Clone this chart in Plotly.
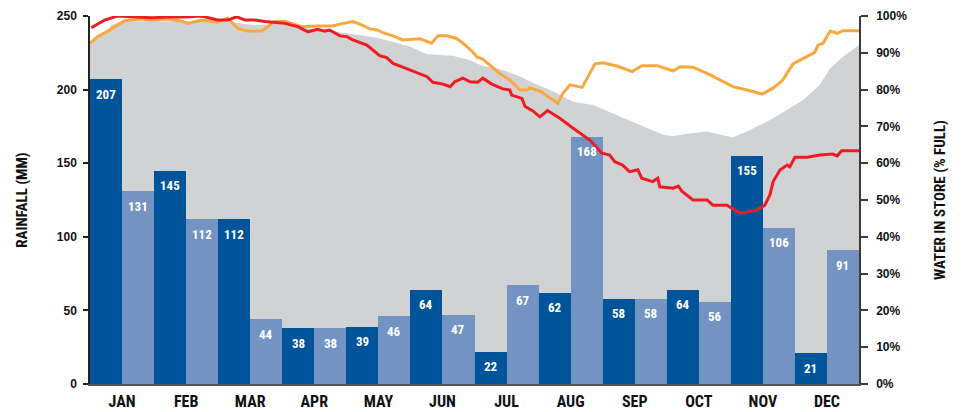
import plotly.graph_objects as go

# ---------------- data ----------------
months = ["JAN", "FEB", "MAR", "APR", "MAY", "JUN", "JUL", "AUG", "SEP", "OCT", "NOV", "DEC"]
rain_year = [207, 145, 112, 38, 39, 64, 22, 62, 58, 64, 155, 21]      # dark bars (mm)
rain_avg = [131, 112, 44, 38, 46, 47, 67, 168, 58, 56, 106, 91]       # light bars (mm)

# storage series: position in months (0 = 1 Jan, 12 = 31 Dec) and % full
red_pos = [0.02, 0.23, 0.43, 0.70, 0.96, 1.21, 1.48, 1.74, 1.99, 2.15, 2.29, 2.42, 2.57, 2.73,
           3.04, 3.24, 3.40, 3.55, 3.66, 3.74, 3.90, 4.01, 4.10, 4.32, 4.41, 4.52, 4.63, 4.73,
           4.88, 5.10, 5.26, 5.35, 5.51, 5.62, 5.69, 5.82, 5.93, 6.05, 6.13, 6.27, 6.44, 6.55,
           6.58, 6.74, 6.79, 6.91, 7.02, 7.14, 7.33, 7.54, 7.80, 7.99, 8.11, 8.19, 8.31, 8.42,
           8.55, 8.61, 8.78, 8.86, 8.89, 9.10, 9.18, 9.24, 9.41, 9.63, 9.72, 9.94, 10.14, 10.25,
           10.41, 10.53, 10.61, 10.66, 10.77, 10.88, 10.92, 11.00, 11.19, 11.39, 11.59, 11.66,
           11.73, 12.0]
red_pct = [96.8, 98.9, 100.0, 99.8, 99.5, 99.7, 99.7, 100.0, 98.9, 98.9, 99.8, 98.9, 98.9, 98.5,
           98.0, 97.1, 95.7, 96.4, 95.9, 96.2, 94.6, 94.4, 93.5, 92.1, 90.8, 89.2, 88.7, 87.1,
           86.1, 84.6, 83.5, 82.0, 81.5, 80.8, 82.1, 83.1, 82.1, 82.0, 83.1, 81.5, 80.2, 79.9,
           78.5, 77.6, 75.4, 74.2, 72.6, 74.3, 72.2, 69.5, 66.3, 62.7, 62.2, 60.4, 59.5, 57.7,
           58.2, 55.9, 55.0, 55.9, 53.6, 53.2, 53.8, 52.3, 50.0, 50.0, 48.6, 48.6, 46.4, 46.7,
           47.3, 48.6, 51.4, 55.0, 58.2, 59.5, 59.0, 61.6, 61.6, 62.2, 62.5, 62.0,
           63.4, 63.4]

orange_pos = [0.0, 0.12, 0.28, 0.43, 0.54, 0.81, 0.96, 1.21, 1.43, 1.53, 1.74, 1.99, 2.15, 2.30,
              2.46, 2.68, 2.88, 3.04, 3.30, 3.55, 3.79, 3.90, 4.10, 4.21, 4.37, 4.48, 4.57, 4.73,
              4.88, 5.15, 5.33, 5.43, 5.57, 5.72, 5.82, 5.97, 6.04, 6.13, 6.24, 6.39, 6.55, 6.71,
              6.82, 6.86, 7.02, 7.18, 7.30, 7.38, 7.49, 7.68, 7.77, 7.88, 8.00, 8.22, 8.46, 8.61,
              8.85, 9.10, 9.21, 9.41, 9.68, 9.88, 10.03, 10.30, 10.49, 10.66, 10.74, 10.81, 10.97,
              11.19, 11.31, 11.36, 11.44, 11.55, 11.66, 11.75, 12.0]
orange_pct = [92.6, 94.4, 95.9, 97.6, 98.7, 99.2, 98.9, 99.2, 98.6, 98.0, 98.9, 98.3, 99.4, 96.7,
              95.9, 95.9, 98.5, 98.6, 97.1, 97.3, 97.3, 97.8, 98.5, 97.8, 96.5, 96.2, 95.5, 94.6,
              93.5, 93.8, 92.6, 94.6, 94.6, 93.9, 92.6, 90.3, 88.8, 88.3, 86.7, 84.4, 82.6, 79.9,
              79.9, 80.5, 79.6, 77.6, 76.3, 79.0, 81.3, 80.6, 83.5, 87.0, 87.3, 86.4, 84.9, 86.5,
              86.5, 85.1, 86.2, 86.1, 84.0, 82.1, 80.8, 79.7, 78.8, 80.4, 81.7, 82.6, 87.0,
              88.9, 90.1, 92.1, 92.6, 95.9, 95.3, 96.0, 96.0]

gray_pos = [0.0, 0.23, 0.34, 0.49, 0.93, 1.50, 2.02, 2.15, 2.52, 2.77, 3.04, 3.30, 3.55, 4.10,
            4.48, 4.99, 5.26, 5.66, 5.93, 6.13, 6.35, 6.66, 6.97, 7.18, 7.33, 7.54, 7.85, 8.22,
            8.58, 8.94, 9.10, 9.36, 9.63, 10.03, 10.25, 10.45, 10.66, 10.88, 11.13, 11.39, 11.55,
            11.75, 12.0]
gray_pct = [92.9, 95.4, 97.6, 98.5, 98.6, 98.6, 98.6, 98.5, 97.6, 97.6, 98.0, 96.8, 96.5, 95.0,
            94.1, 91.7, 89.6, 89.2, 88.0, 86.4, 85.8, 84.0, 81.4, 79.9, 78.5, 76.7, 75.8, 73.1,
            70.5, 67.7, 67.4, 68.1, 68.6, 67.0, 68.6, 70.4, 72.2, 74.5, 77.2, 81.3, 85.8,
            88.9, 92.1]

rain_ticks = [0, 50, 100, 150, 200, 250]
store_ticks = [0, 10, 20, 30, 40, 50, 60, 70, 80, 90, 100]

# ---------------- styles ----------------
DARK = "#00549A"
LIGHT = "#7393C2"
GRAY = "#D1D2D4"
RED = "#ED1C24"
ORANGE = "#FAA73E"
NARROW = "Roboto Condensed, Liberation Sans Narrow, Roboto, sans-serif"
SANS = "Liberation Sans, Arial, sans-serif"


def narrow_font(size, color):
    return dict(family=NARROW, size=size, color=color, weight="bold")


idx = list(range(len(months)))
dark_x = [i + 0.25 for i in idx]
light_x = [i + 0.75 for i in idx]

fig = go.Figure()

# grey range area (hidden base axis, % scale)
fig.add_trace(go.Scatter(x=gray_pos, y=gray_pct, mode="lines", line=dict(width=0, color=GRAY),
                         fill="tozeroy", fillcolor=GRAY, yaxis="y", hoverinfo="skip"))

# rainfall bars
fig.add_trace(go.Bar(x=dark_x, y=rain_year, width=0.5, marker=dict(color=DARK, line=dict(width=0)),
                     yaxis="y2"))
fig.add_trace(go.Bar(x=light_x, y=rain_avg, width=0.5, marker=dict(color=LIGHT, line=dict(width=0)),
                     yaxis="y2"))

# storage lines
fig.add_trace(go.Scatter(x=orange_pos, y=orange_pct, mode="lines",
                         line=dict(color=ORANGE, width=3), yaxis="y3"))
fig.add_trace(go.Scatter(x=red_pos, y=red_pct, mode="lines",
                         line=dict(color=RED, width=3), yaxis="y3"))

# value labels inside bars
annotations = []
for xs, vals in ((dark_x, rain_year), (light_x, rain_avg)):
    for xv, v in zip(xs, vals):
        annotations.append(dict(x=xv, y=v, xref="x", yref="y2", text=str(v), showarrow=False,
                                yshift=-15, font=narrow_font(13, "white")))

# the page body has an 8px default margin, so the figure is sized to fit the window
fig.update_layout(
    width=954, height=404,
    margin=dict(l=82, r=103, t=8, b=28),
    paper_bgcolor="white", plot_bgcolor="white",
    showlegend=False, bargap=0, barmode="overlay",
    annotations=annotations,
    xaxis=dict(range=[0, 12], tickvals=[i + 0.5 for i in idx], ticktext=months,
               showgrid=False, zeroline=False, ticks="", showline=True, linecolor="#555555",
               linewidth=1.5, ticklabelstandoff=2, automargin=False,
               tickfont=narrow_font(16, "#111111")),
    yaxis=dict(range=[0, 100], visible=False, fixedrange=True, automargin=False),
    yaxis2=dict(range=[0, 250], overlaying="y", side="left", tickvals=rain_ticks,
                showgrid=False, zeroline=False, showline=True, linecolor="#222222", linewidth=1.5,
                ticks="outside", ticklen=5, tickwidth=1.5, tickcolor="#222222",
                ticklabelstandoff=4, automargin=False,
                tickfont=dict(family=SANS, size=12, color="#111111", weight="bold"),
                title=dict(text="RAINFALL (MM)", standoff=26, font=narrow_font(15, "#111111"))),
    yaxis3=dict(range=[0, 100], overlaying="y", side="right", tickvals=store_ticks,
                ticktext=[f"{t}%" for t in store_ticks],
                showgrid=False, zeroline=False, showline=True, linecolor="#3a3a3a", linewidth=1.5,
                ticks="outside", ticklen=7, tickwidth=1.5, tickcolor="#3a3a3a",
                ticklabelstandoff=6, automargin=False,
                tickfont=dict(family=SANS, size=12, color="#111111", weight="bold"),
                title=dict(text="WATER IN STORE (% FULL)", standoff=28,
                           font=narrow_font(15, "#111111"))),
)

fig.write_html("out.html")
